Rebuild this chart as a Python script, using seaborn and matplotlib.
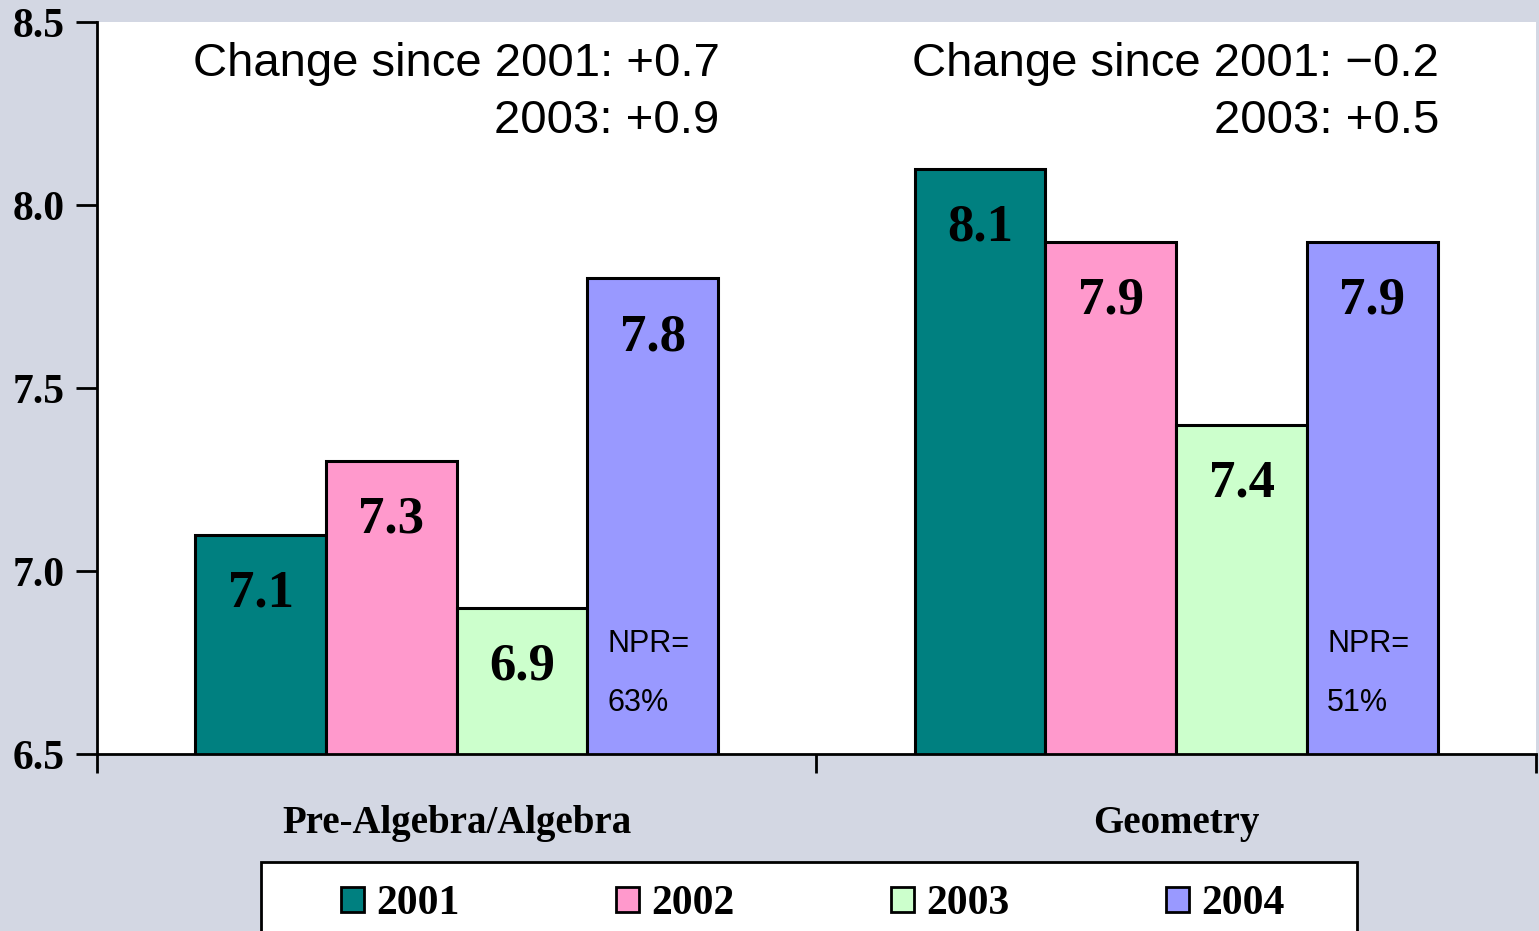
import pandas as pd
import matplotlib.pyplot as plt
import seaborn as sns
from matplotlib.ticker import FixedLocator
from matplotlib.patches import Rectangle

# dados
categorias = ['Pre-Algebra/Algebra', 'Geometry']
anos = ['2001', '2002', '2003', '2004']
valores_pre = [7.1, 7.3, 6.9, 7.8]
valores_geo = [8.1, 7.9, 7.4, 7.9]
cores = ['#008080', '#ff99cc', '#ccffcc', '#9999ff']
mudancas = ['Change since 2001: +0.7\n2003: +0.9',
            'Change since 2001: \u22120.2\n2003: +0.5']
npr = ['63%', '51%']

df = pd.DataFrame({
    'categoria': [categorias[0]] * 4 + [categorias[1]] * 4,
    'ano': anos * 2,
    'valor': valores_pre + valores_geo,
})

sns.set_style('white')
plt.rcParams['font.family'] = ['Liberation Serif', 'DejaVu Serif']
plt.rcParams['text.color'] = 'black'
plt.rcParams['xtick.color'] = 'black'
plt.rcParams['ytick.color'] = 'black'

sans = ['Liberation Sans', 'DejaVu Sans']
fundo = '#d3d7e3'
fig = plt.figure(figsize=(15.39, 9.31), dpi=100, facecolor=fundo)
ax = fig.add_axes([0.063, 0.19, 0.935, 0.786])
ax.set_facecolor('white')

# o eixo começa em 6.5, as barras ficam cortadas pelo limite
sns.barplot(data=df, x='categoria', y='valor', hue='ano', palette=cores,
            width=0.727, gap=0, edgecolor='black', linewidth=2.2,
            ax=ax, saturation=1, legend=True)

ax.set_ylim(6.5, 8.5)
ax.set_xlim(-0.5, 1.5)
ax.set_yticks([6.5, 7.0, 7.5, 8.0, 8.5])
ax.set_yticklabels(['6.5', '7.0', '7.5', '8.0', '8.5'], fontsize=30, fontweight='bold')
ax.tick_params(axis='y', direction='out', length=15, width=2, pad=8, left=True)
ax.tick_params(axis='x', which='major', length=0, pad=37, labelsize=28)
for lbl in ax.get_xticklabels():
    lbl.set_fontweight('bold')
ax.xaxis.set_minor_locator(FixedLocator([-0.5, 0.5, 1.5]))
ax.tick_params(axis='x', which='minor', direction='out', length=14, width=2, bottom=True)
ax.set_xlabel('')
ax.set_ylabel('')
for lado in ['top', 'right']:
    ax.spines[lado].set_visible(False)
for lado in ['left', 'bottom']:
    ax.spines[lado].set_linewidth(2)
    ax.spines[lado].set_color('black')
    ax.spines[lado].set_zorder(5)

# rótulos de valor dentro das barras
for cont in ax.containers:
    for barra in cont:
        v = barra.get_height()
        ax.text(barra.get_x() + barra.get_width() / 2, v - 0.16, f'{v:.1f}',
                ha='center', va='center', fontsize=38, fontweight='bold')

# textos de mudança e NPR
ultimo = ax.containers[-1]
for i, barra in enumerate(ultimo):
    ax.text(barra.get_x() + barra.get_width() + 0.002, 8.445, mudancas[i],
            ha='right', va='top', multialignment='right', fontsize=34,
            family=sans, linespacing=1.38)
    ax.text(barra.get_x() + 0.028, 6.80, 'NPR=', ha='left', va='center',
            fontsize=22, family=sans)
    ax.text(barra.get_x() + 0.028, 6.64, npr[i], ha='left', va='center',
            fontsize=22, family=sans)

# caixa da legenda, que sai pela borda de baixo
fig.patches.append(Rectangle((261 / 1539, -0.02), (1357 - 261) / 1539, 0.02 + (931 - 862) / 931,
                             transform=fig.transFigure, facecolor='white',
                             edgecolor='black', linewidth=2, zorder=-1))

leg = ax.legend(loc='center', bbox_to_anchor=(0.528, 0.029),
                bbox_transform=fig.transFigure, ncol=4, frameon=False,
                prop={'size': 30, 'weight': 'bold'},
                handlelength=0.55, handleheight=0.55, handletextpad=0.3,
                columnspacing=3.75, borderaxespad=0, borderpad=0, title=None)
for h in leg.legend_handles:
    h.set_edgecolor('black')
    h.set_linewidth(2)

fig.savefig('out.png', dpi=100, facecolor=fundo)
